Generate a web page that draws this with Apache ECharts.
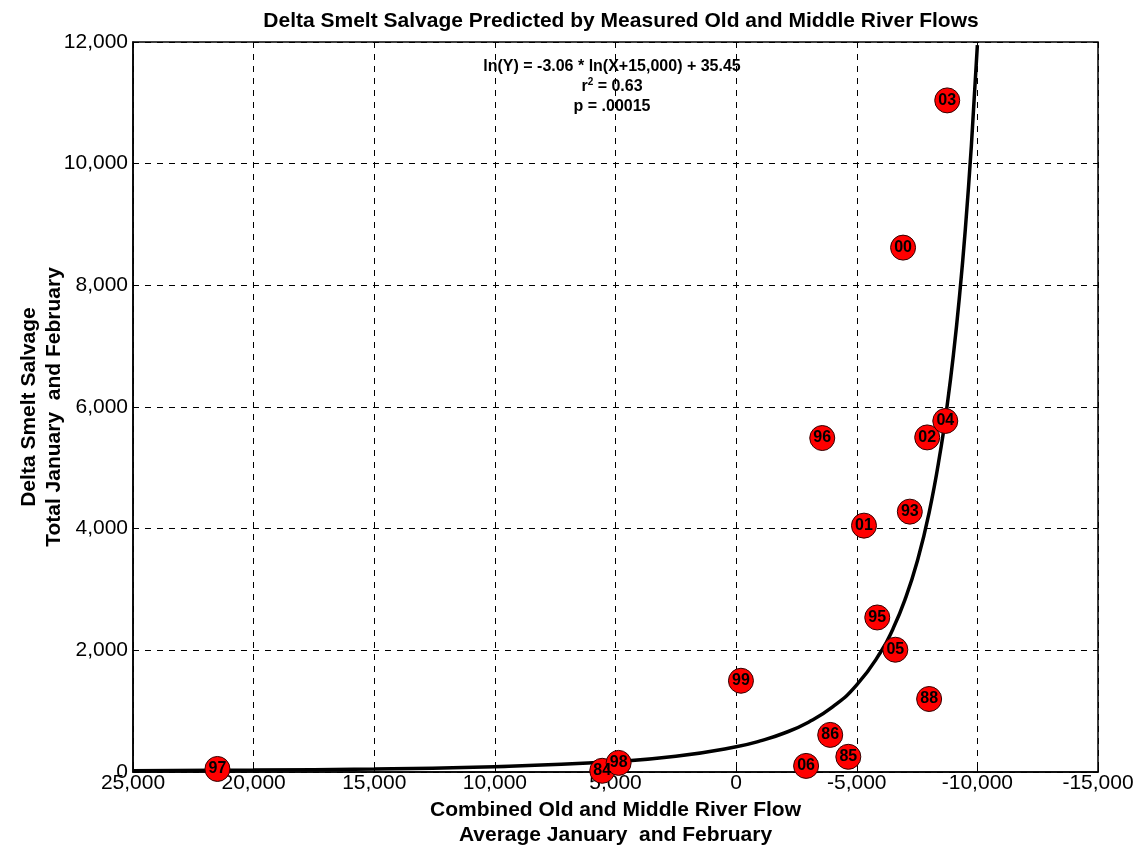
<!DOCTYPE html>
<html>
<head>
<meta charset="utf-8">
<script src="https://cdn.jsdelivr.net/npm/echarts@6/dist/echarts.min.js"></script>
<style>
  html, body { margin: 0; padding: 0; background: #fff; }
  #chart { width: 1138px; height: 852px; }
</style>
</head>
<body>
<div id="chart"></div>
<script>
// water years, combined OMR flow (cfs), salvage
const years = ['97', '84', '98', '99', '06', '86', '85', '96', '01', '95', '05', '93', '88', '02', '04', '00', '03']
const flows = [21500, 5550, 4870, -200, -2900, -3900, -4650, -3570, -5300, -5850, -6600, -7200, -8000, -7920, -8670, -6920, -8750]
const salvage = [50, 20, 150, 1500, 100, 610, 250, 5490, 4050, 2540, 2010, 4280, 1200, 5500, 5770, 8620, 11040]

// fitted curve
const curveX = [25000, 20000, 15000, 10000, 5000, 2500, 0, -1000, -2000, -3000, -4000, -5000, -6000, -6500, -7000, -7500, -8000, -8500, -8750, -9000, -9250, -9500, -9750, -10000]
const curveY = [21, 31, 50, 87, 172, 258, 414, 511, 641, 819, 1069, 1431, 1976, 2352, 2834, 3453, 4264, 5350, 6033, 6834, 7784, 8918, 10289, 11950]

const font = 'Liberation Sans, Arial, sans-serif'
const fmt = v => (v < 0 ? '-' : '') + Math.abs(v).toLocaleString('en-US')

const chart = echarts.init(document.getElementById('chart'))

chart.setOption({
  animation: false,
  title: {
    text: 'Delta Smelt Salvage Predicted by Measured Old and Middle River Flows',
    left: 616, top: 6, textAlign: 'center',
    textStyle: { fontFamily: font, fontSize: 21, fontWeight: 'bold', color: '#000' }
  },
  grid: {
    left: 133, right: 40, top: 42, bottom: 80, containLabel: false, outerBoundsMode: 'none',
    show: true, borderColor: '#000', borderWidth: 1.5
  },
  xAxis: {
    type: 'value', inverse: true, min: -15000, max: 25000, interval: 5000,
    name: 'Combined Old and Middle River Flow\nAverage January  and February',
    nameLocation: 'middle', nameGap: 26, nameMoveOverlap: false,
    nameTextStyle: { fontFamily: font, fontSize: 21, fontWeight: 'bold', color: '#000', lineHeight: 25, verticalAlign: 'top' },
    axisLine: { show: true, onZero: false, lineStyle: { color: '#000', width: 1.5 } },
    axisTick: { show: true, inside: true, length: 6, lineStyle: { color: '#000' } },
    axisLabel: { formatter: fmt, fontFamily: font, fontSize: 21, color: '#000', margin: 1 },
    splitLine: { show: true, lineStyle: { color: '#000', type: [6, 6], width: 1 } }
  },
  yAxis: {
    type: 'value', min: 0, max: 12000, interval: 2000,
    name: 'Delta Smelt Salvage\nTotal January  and February',
    nameLocation: 'middle', nameGap: 66, nameMoveOverlap: false,
    nameTextStyle: { fontFamily: font, fontSize: 21, fontWeight: 'bold', color: '#000', lineHeight: 25 },
    axisLine: { show: true, onZero: false, lineStyle: { color: '#000', width: 1.5 } },
    axisTick: { show: true, inside: true, length: 6, lineStyle: { color: '#000' } },
    axisLabel: { formatter: fmt, fontFamily: font, fontSize: 21, color: '#000', margin: 5 },
    splitLine: { show: true, lineStyle: { color: '#000', type: [6, 6], width: 1 } }
  },
  graphic: [{
    type: 'text', x: 612, y: 57,
    style: {
      text: '{a|ln(Y) = -3.06 * ln(X+15,000) + 35.45}\n{a|r}{s|2}{a| = 0.63}\n{a|p = .00015}',
      align: 'center',
      rich: {
        a: { fontFamily: font, fontSize: 16, fontWeight: 'bold', fill: '#000', lineHeight: 20 },
        s: { fontFamily: font, fontSize: 10, fontWeight: 'bold', fill: '#000', verticalAlign: 'top', lineHeight: 20, padding: [0, 0, 9, 0] }
      }
    }
  }],
  series: [
    {
      type: 'line', z: 2, smooth: true, showSymbol: false, silent: true,
      data: curveX.map((x, i) => [x, curveY[i]]),
      lineStyle: { color: '#000', width: 3.5 }
    },
    {
      type: 'scatter', z: 3, symbolSize: 25,
      data: flows.map((x, i) => ({ value: [x, salvage[i]], name: years[i] })),
      itemStyle: { color: '#ff0000', opacity: 1, borderColor: '#300000', borderWidth: 1 },
      label: {
        show: true, position: 'inside', formatter: p => p.name,
        fontFamily: font, fontSize: 16, fontWeight: 'bold', color: '#000'
      }
    }
  ]
})
</script>
</body>
</html>
